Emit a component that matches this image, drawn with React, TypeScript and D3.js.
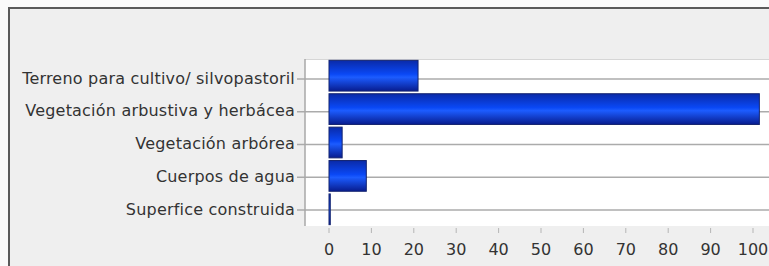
import React from 'react'
import * as d3 from 'd3'

const categories = [
  'Terreno para cultivo/ silvopastoril',
  'Vegetación arbustiva y herbácea',
  'Vegetación arbórea',
  'Cuerpos de agua',
  'Superfice construida',
]
const values = [21, 101.5, 3.1, 8.8, 0.3]
const xTicks = [0, 10, 20, 30, 40, 50, 60, 70, 80, 90, 100]

const W = 769
const H = 266
const plot = { left: 305, top: 59, right: 790, bottom: 226 }
const font = '"DejaVu Sans", Verdana, sans-serif'

export default function App() {
  const x = d3.scaleLinear().domain([0, 100]).range([329, 753])
  const y = d3.scaleBand<string>().domain(categories)
    .range([plot.top, plot.bottom]).paddingInner(0.08).paddingOuter(0.04)
  // category ticks sit a little below the bar centres in the original
  const yTick = d3.scalePoint<string>().domain(categories).range([79, 210])

  return (
    <div style={{ position: 'fixed', left: 0, top: 0 }}>
      <svg width={W} height={H} style={{ display: 'block', background: '#fafafa' }}>
        <defs>
          <linearGradient id="barGrad" x1="0" y1="0" x2="0" y2="1">
            <stop offset="0" stopColor="#0a2aa8" />
            <stop offset="0.45" stopColor="#0a48f5" />
            <stop offset="0.55" stopColor="#1c5cff" />
            <stop offset="1" stopColor="#081c8e" />
          </linearGradient>
        </defs>

        {/* chart frame */}
        <rect x={9} y={8} width={W} height={H} fill="#efefef" stroke="#5a5a5a" strokeWidth={2} />

        {/* plot area */}
        <rect x={plot.left} y={plot.top} width={plot.right - plot.left} height={plot.bottom - plot.top}
          fill="#ffffff" />
        <line x1={plot.left} x2={plot.right} y1={plot.top + 0.5} y2={plot.top + 0.5} stroke="#d6d6d6" />

        {/* gridlines + category axis */}
        <g>
          {categories.map(c => (
            <line key={c} x1={297} x2={plot.right} y1={yTick(c)} y2={yTick(c)}
              stroke="#ababab" strokeWidth={1.5} />
          ))}
          <line x1={plot.left} x2={plot.left} y1={plot.top} y2={plot.bottom} stroke="#a8a8a8" strokeWidth={1.5} />
          {categories.map(c => (
            <text key={c} x={295} y={(yTick(c) ?? 0) + 4.5} textAnchor="end" letterSpacing={0.2}
              fontFamily={font} fontSize={16} fill="#333">{c}</text>
          ))}
        </g>

        {/* bars */}
        <g>
          {categories.map((c, i) => (
            <rect key={c} x={x(0)} y={y(c)} width={Math.max(1, x(values[i]) - x(0))} height={y.bandwidth()}
              fill="url(#barGrad)" stroke="#13236e" strokeWidth={1} />
          ))}
        </g>

        {/* value axis */}
        <g>
          {xTicks.map(t => (
            <g key={t} transform={`translate(${x(t)},0)`}>
              <line y1={228} y2={233} stroke="#b5b5b5" strokeWidth={1} />
              <text y={255} textAnchor="middle" fontFamily={font} fontSize={16} fill="#333">{t}</text>
            </g>
          ))}
        </g>
      </svg>
    </div>
  )
}
